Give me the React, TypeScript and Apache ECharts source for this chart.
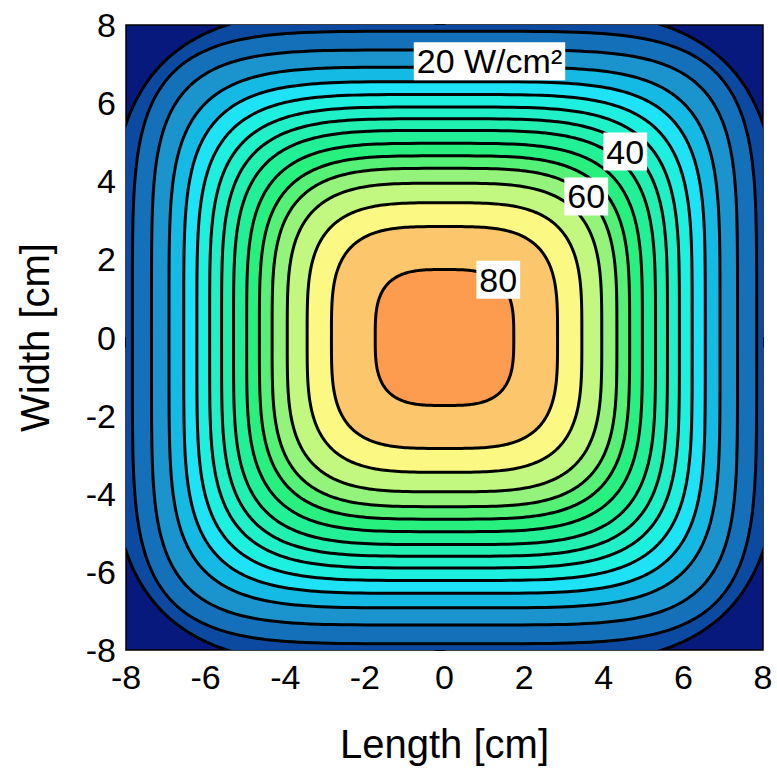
import React, { useEffect, useRef } from "react";
import * as echarts from "echarts";

// Contour levels (W/cm²) and their shape:
// half-width on the x / y axes through the centre, and distance along the diagonal.
const levels = [5, 10, 15, 20, 25, 30, 35, 40, 45, 50, 55, 60, 65, 70, 75, 80];
const axisRadius = [8.45, 7.84, 7.36, 6.92, 6.55, 6.22, 5.9, 5.6, 5.3, 4.97, 4.65, 4.33, 3.95, 3.45, 2.84, 1.74];
const diagRadius = [7.05, 6.8, 6.42, 6.0, 5.65, 5.33, 5.03, 4.75, 4.47, 4.17, 3.88, 3.6, 3.27, 2.84, 2.33, 1.4];
// fill colour of the band above each level
const bandColors = [
  "#0c4aa2", "#1470b8", "#1b93cd", "#14bae3", "#1ee3f7", "#1ef0e0", "#20f0c8", "#22f0b0",
  "#22f096", "#28f07e", "#55f076", "#94f37a", "#c3f880", "#fbf983", "#fcc66d", "#fd9b4f",
];
const lowestColor = "#07197c";

// inline contour labels
const labelTexts = ["20 W/cm²", "40", "60", "80"];
const labelX = [1.13, 4.54, 3.56, 1.35];
const labelY = [7.07, 4.76, 3.61, 1.48];

const axisMin = -8;
const axisMax = 8;
const axisStep = 2;

export default function App() {
  const ref = useRef<HTMLDivElement>(null);

  useEffect(() => {
    if (!ref.current) return;
    const chart = echarts.init(ref.current, undefined, { renderer: "svg" });

    const contourData = levels.map((lv, i) => [lv, axisRadius[i], diagRadius[i], i]);
    const labelData = labelTexts.map((t, i) => ({ value: [labelX[i], labelY[i]], name: t }));

    const font = "'Liberation Sans', Arial, sans-serif";

    const axisCommon = {
      type: "value" as const,
      min: axisMin,
      max: axisMax,
      interval: axisStep,
      splitLine: { show: false },
      axisLine: { show: true, lineStyle: { color: "#000", width: 1.5 } },
      axisTick: { show: true, inside: false, length: 10, lineStyle: { color: "#000", width: 1.5 } },
      minorTick: { show: true, splitNumber: 2, length: 5, lineStyle: { color: "#000", width: 1.5 } },
      axisLabel: { color: "#000", fontSize: 34, fontFamily: font, margin: 10 },
      nameTextStyle: { color: "#000", fontSize: 40, fontFamily: font },
      nameLocation: "middle" as const,
    };

    chart.setOption({
      animation: false,
      backgroundColor: "#fff",
      grid: {
        left: 126,
        right: 14,
        top: 25,
        bottom: 130,
        show: true,
        borderColor: "#000",
        borderWidth: 1.5,
        backgroundColor: lowestColor,
        containLabel: false,
      },
      xAxis: { ...axisCommon, name: "Length [cm]", nameGap: 74 },
      yAxis: { ...axisCommon, name: "Width [cm]", nameGap: 71, nameRotate: 90 },
      series: [
        {
          type: "custom",
          clip: true,
          data: contourData,
          z: 2,
          renderItem: (params: any, api: any) => {
            const r = api.value(1);
            const d = api.value(2);
            const idx = api.value(3);
            const n = Math.log(2) / Math.log(r / d);
            const e = 2 / n;
            const pts: number[][] = [];
            const N = 360;
            for (let k = 0; k < N; k++) {
              const t = (k / N) * Math.PI * 2;
              const c = Math.cos(t);
              const s = Math.sin(t);
              const x = r * Math.sign(c) * Math.pow(Math.abs(c), e);
              const y = r * Math.sign(s) * Math.pow(Math.abs(s), e);
              pts.push(api.coord([x, y]));
            }
            return {
              type: "polygon",
              shape: { points: pts },
              style: {
                fill: bandColors[idx],
                stroke: "#000",
                lineWidth: 3,
                lineJoin: "round",
              },
            };
          },
        },
        {
          type: "scatter",
          data: labelData,
          symbolSize: 0,
          z: 5,
          itemStyle: { opacity: 1 },
          emphasis: { disabled: true },
          label: {
            show: true,
            position: "inside",
            formatter: (p: any) => p.name,
            color: "#000",
            fontSize: 34,
            fontFamily: font,
            backgroundColor: "#fff",
            padding: [3, 3, 1, 3],
          },
        },
      ],
    });

    return () => chart.dispose();
  }, []);

  return (
    <div
      ref={ref}
      style={{ position: "fixed", left: 0, top: 0, width: 777, height: 780, background: "#fff" }}
    />
  );
}
